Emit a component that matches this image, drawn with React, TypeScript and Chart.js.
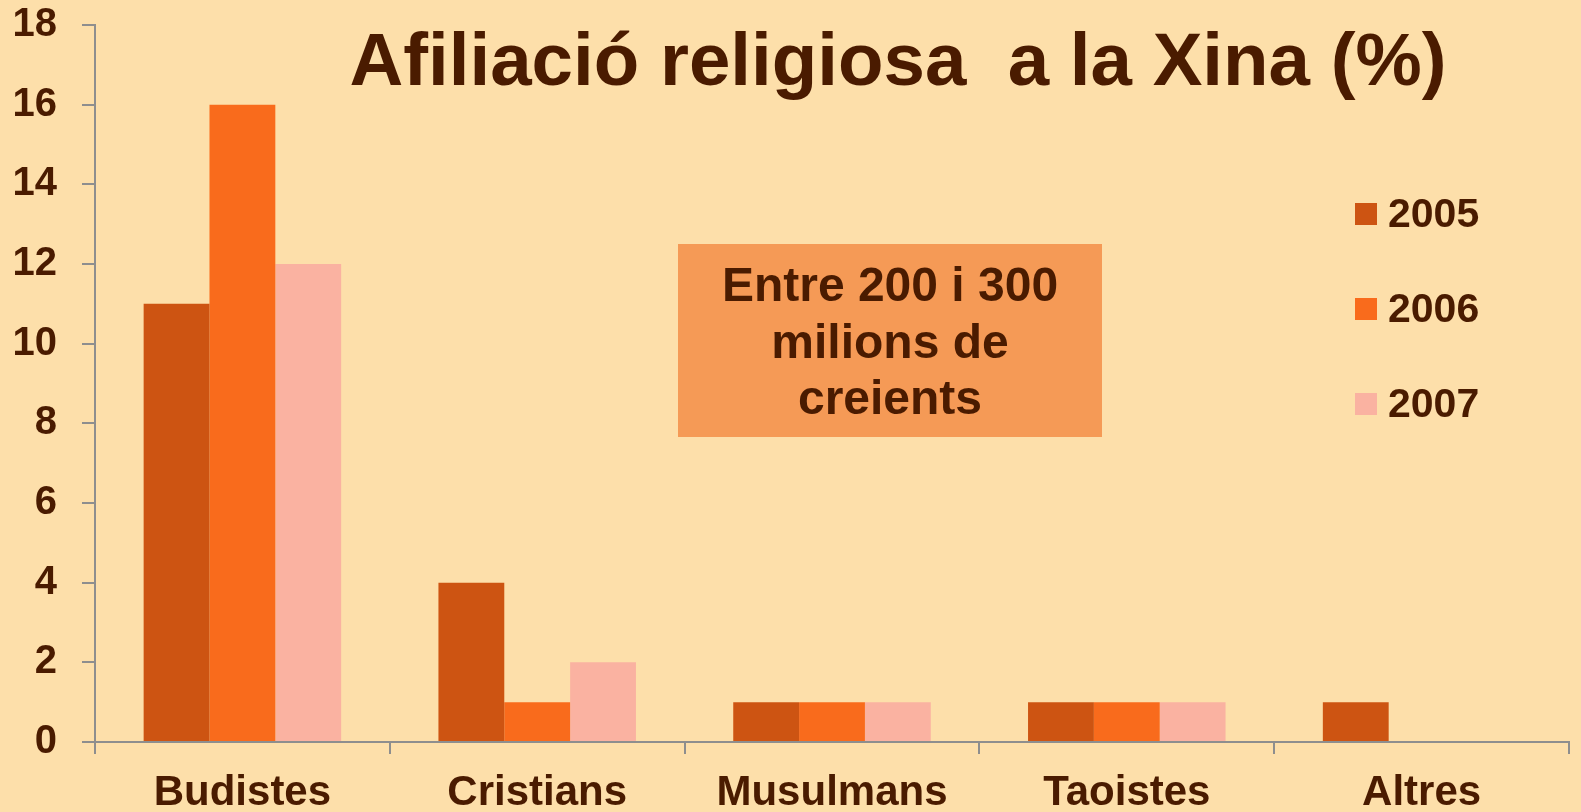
import React, { useEffect, useRef } from "react";
import { Chart, registerables } from "chart.js";

Chart.register(...registerables);

const categories = ["Budistes", "Cristians", "Musulmans", "Taoistes", "Altres"];
const seriesLabels = ["2005", "2006", "2007"];
const values2005 = [11, 4, 1, 1, 1];
const values2006 = [16, 1, 1, 1, null];
const values2007 = [12, 2, 1, 1, null];
const yTicks = [0, 2, 4, 6, 8, 10, 12, 14, 16, 18];
const titleText = "Afiliació religiosa  a la Xina (%)";
const noteLines = ["Entre 200 i 300", "milions de", "creients"];

const FONT = '"Liberation Sans", Arial, Helvetica, sans-serif';
const TEXT = "#4A1B00";
const BG = "#FDDFAA";
const AXIS = "#8E8E8E";
const COLORS = ["#CD5412", "#F96B1C", "#FAB2A1"];
const BOX = "#F59A56";

const overlayPlugin = {
  id: "overlay",
  beforeDraw(chart: any) {
    const ctx = chart.ctx;
    ctx.save();
    ctx.fillStyle = BG;
    ctx.fillRect(0, 0, chart.width, chart.height);
    ctx.restore();
  },
  afterDraw(chart: any) {
    const ctx = chart.ctx;
    ctx.save();
    // title
    ctx.fillStyle = TEXT;
    ctx.font = `bold 74.5px ${FONT}`;
    ctx.textAlign = "center";
    ctx.textBaseline = "alphabetic";
    ctx.fillText(titleText, 898, 85);
    // note box
    ctx.fillStyle = BOX;
    ctx.fillRect(678, 244, 424, 193);
    ctx.fillStyle = TEXT;
    ctx.font = `bold 48px ${FONT}`;
    noteLines.forEach((l, i) => ctx.fillText(l, 890, 301 + i * 56.5));
    // legend
    ctx.textAlign = "left";
    ctx.font = `bold 41px ${FONT}`;
    chart.data.datasets.forEach((ds: any, i: number) => {
      ctx.fillStyle = ds.backgroundColor;
      ctx.fillRect(1355, 203 + i * 95, 22, 22);
      ctx.fillStyle = TEXT;
      ctx.fillText(ds.label, 1388, 227 + i * 95);
    });
    ctx.restore();
  },
};

export default function App() {
  const ref = useRef<HTMLCanvasElement>(null);
  useEffect(() => {
    document.body.style.margin = "0";
    document.body.style.background = BG;
    const chart = new Chart(ref.current!, {
      type: "bar",
      data: {
        labels: categories,
        datasets: [values2005, values2006, values2007].map((v, i) => ({
          label: seriesLabels[i],
          data: v,
          backgroundColor: COLORS[i],
          borderWidth: 0,
          categoryPercentage: 0.67,
          barPercentage: 1.0,
        })),
      },
      options: {
        animation: false,
        responsive: true,
        maintainAspectRatio: false,
        layout: { padding: { left: 12, right: 12, top: 25, bottom: 0 } },
        plugins: { legend: { display: false }, title: { display: false }, tooltip: { enabled: false } },
        scales: {
          x: {
            afterFit: (axis: any) => {
              axis.height = 70;
              axis.paddingLeft = 0;
              axis.paddingRight = 0;
            },
            grid: { display: true, drawOnChartArea: false, drawTicks: true, tickLength: 12, color: AXIS, lineWidth: 2, offset: true },
            border: { display: true, color: AXIS, width: 2 },
            ticks: { color: TEXT, font: { family: FONT, size: 42, weight: "bold" }, padding: 14 },
          },
          y: {
            min: 0,
            max: 18,
            afterBuildTicks: (axis: any) => {
              axis.ticks = yTicks.map((v) => ({ value: v }));
            },
            afterFit: (axis: any) => {
              axis.width = 83;
              axis.paddingTop = 0;
              axis.paddingBottom = 0;
            },
            grid: { display: true, drawOnChartArea: false, drawTicks: true, tickLength: 13, color: AXIS, lineWidth: 2 },
            border: { display: true, color: AXIS, width: 2 },
            ticks: { color: TEXT, font: { family: FONT, size: 40, weight: "bold" }, padding: 25 },
          },
        },
      },
      plugins: [overlayPlugin],
    });
    return () => chart.destroy();
  }, []);
  return (
    <div style={{ width: 1581, height: 812, position: "relative" }}>
      <canvas ref={ref} />
    </div>
  );
}
